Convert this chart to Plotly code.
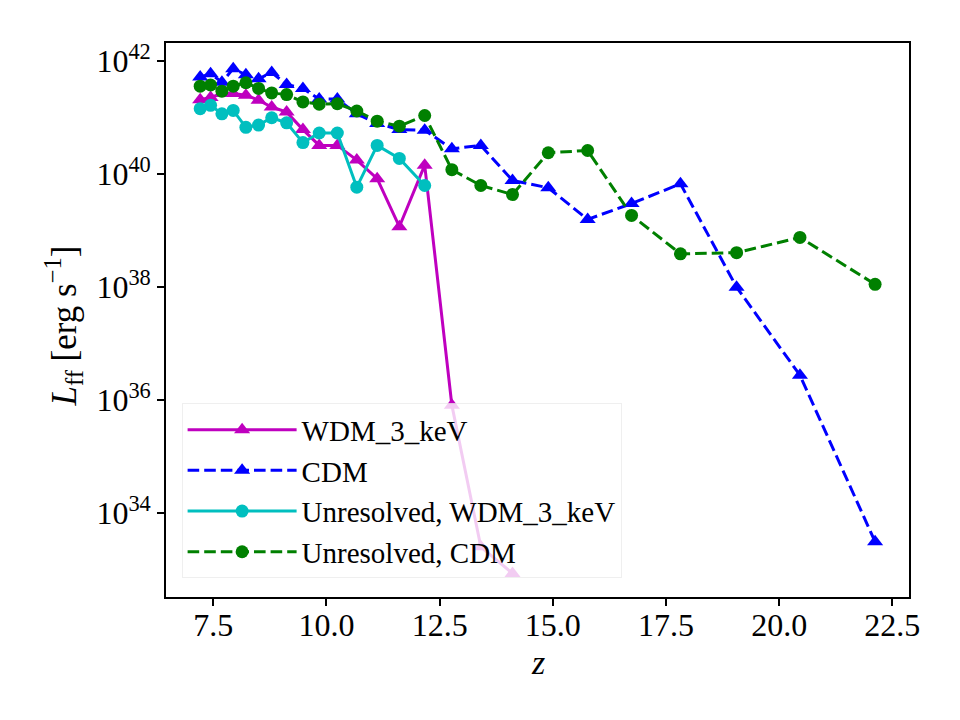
import plotly.graph_objects as go

# redshift snapshots
z_cdm = [7.21, 7.44, 7.69, 7.94, 8.22, 8.50, 8.79, 9.12, 9.48, 9.84, 10.24, 10.67,
         11.12, 11.61, 12.17, 12.77, 13.41, 14.11, 14.90, 15.77, 16.74, 17.82,
         19.06, 20.46, 22.12]
z_wdm = z_cdm[:18]
z_wdm_unres = z_cdm[:15]

# log10 luminosities
logL_wdm = [41.32, 41.36, 41.43, 41.43, 41.40, 41.31, 41.19, 41.10, 40.79, 40.51,
            40.51, 40.25, 39.92, 39.07, 40.16, 35.91, 33.40, 32.93]
logL_cdm = [41.72, 41.78, 41.63, 41.87, 41.76, 41.69, 41.80, 41.59, 41.52, 41.33,
            41.33, 41.07, 40.90, 40.79, 40.78, 40.45, 40.51, 39.89, 39.76, 39.20,
            39.48, 39.83, 38.00, 36.44, 33.49]
logL_wdm_unres = [41.16, 41.22, 41.07, 41.13, 40.83, 40.87, 41.00, 40.91, 40.56,
                  40.73, 40.73, 39.77, 40.51, 40.28, 39.80]
logL_cdm_unres = [41.56, 41.58, 41.47, 41.56, 41.62, 41.52, 41.44, 41.41, 41.28,
                  41.24, 41.25, 41.12, 40.94, 40.85, 41.04, 40.08, 39.80, 39.64,
                  40.38, 40.42, 39.27, 38.59, 38.61, 38.88, 38.05]

L_wdm = [10.0 ** v for v in logL_wdm]
L_cdm = [10.0 ** v for v in logL_cdm]
L_wdm_unres = [10.0 ** v for v in logL_wdm_unres]
L_cdm_unres = [10.0 ** v for v in logL_cdm_unres]

ytick_exp = [34, 36, 38, 40, 42]
xtick_vals = [7.5, 10.0, 12.5, 15.0, 17.5, 20.0, 22.5]

FONT = "Liberation Serif, Times New Roman, Times, serif"
dash = "11.6px,5px"

fig = go.Figure()
fig.add_trace(go.Scatter(x=z_wdm, y=L_wdm, mode="lines+markers", name="WDM_3_keV",
                         line=dict(color="#bf00bf", width=3),
                         marker=dict(symbol="triangle-up", size=14, color="#bf00bf")))
fig.add_trace(go.Scatter(x=z_cdm, y=L_cdm, mode="lines+markers", name="CDM",
                         line=dict(color="#0000ff", width=3, dash=dash),
                         marker=dict(symbol="triangle-up", size=14, color="#0000ff")))
fig.add_trace(go.Scatter(x=z_wdm_unres, y=L_wdm_unres, mode="lines+markers",
                         name="Unresolved, WDM_3_keV",
                         line=dict(color="#00bfbf", width=3),
                         marker=dict(symbol="circle", size=13, color="#00bfbf")))
fig.add_trace(go.Scatter(x=z_cdm, y=L_cdm_unres, mode="lines+markers",
                         name="Unresolved, CDM",
                         line=dict(color="#008000", width=3, dash=dash),
                         marker=dict(symbol="circle", size=13, color="#008000")))

fig.update_layout(
    width=960, height=720,
    margin=dict(l=166, r=51, t=43, b=123),
    paper_bgcolor="white", plot_bgcolor="white",
    font=dict(family=FONT, size=29, color="black"),
    showlegend=True,
    legend=dict(x=0.021, y=0.3496, xanchor="left", yanchor="top",
                bgcolor="rgba(255,255,255,0.8)", bordercolor="rgba(235,235,235,0.8)",
                borderwidth=1, font=dict(family=FONT, size=29), tracegroupgap=0,
                itemwidth=109),
    annotations=[
        dict(text="<i>L</i><sub>ff</sub> [erg s<sup>−1</sup>]", xref="paper", yref="paper",
             x=-0.1373, y=0.49, xanchor="center", yanchor="middle", textangle=-90,
             showarrow=False, font=dict(family=FONT, size=35)),
        dict(text="<i>z</i>", xref="paper", yref="paper",
             x=0.501, y=-0.118, xanchor="center", yanchor="middle",
             showarrow=False, font=dict(family=FONT, size=34)),
    ],
)
fig.update_xaxes(range=[6.455, 22.869], tickvals=xtick_vals,
                 ticktext=[f"{v:.1f}" for v in xtick_vals],
                 ticks="outside", ticklen=7, tickwidth=1.6, tickcolor="black",
                 showline=True, linecolor="black", linewidth=1.6, mirror=True,
                 showgrid=False, zeroline=False, ticklabelstandoff=-8,
                 tickfont=dict(family=FONT, size=32))
fig.update_yaxes(type="log", range=[32.512, 42.324],
                 tickvals=[10.0 ** e for e in ytick_exp],
                 ticktext=[f"10<sup>{e}</sup>" for e in ytick_exp],
                 ticks="outside", ticklen=7, tickwidth=1.6, tickcolor="black",
                 showline=True, linecolor="black", linewidth=1.6, mirror=True,
                 showgrid=False, zeroline=False,
                 tickfont=dict(family=FONT, size=32))

fig.write_html("out.html")
